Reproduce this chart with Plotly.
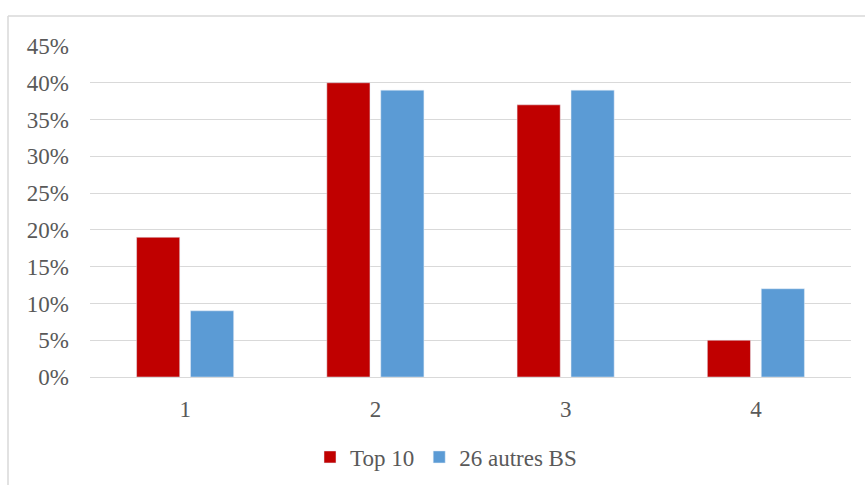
import plotly.graph_objects as go

categories = ["1", "2", "3", "4"]
top10 = [0.19, 0.40, 0.37, 0.05]
autres_bs = [0.09, 0.39, 0.39, 0.12]
y_ticks = [0, 0.05, 0.10, 0.15, 0.20, 0.25, 0.30, 0.35, 0.40, 0.45]
y_labels = ["0%", "5%", "10%", "15%", "20%", "25%", "30%", "35%", "40%", "45%"]

W, H = 865, 485
ML, MR, MT, MB = 90, 14, 46, 108
pw, ph = W - ML - MR, H - MT - MB

font = dict(family="Liberation Serif, Times New Roman, serif", size=23, color="#595959")

fig = go.Figure()
fig.add_trace(go.Bar(name="Top 10", x=categories, y=top10, marker_color="#C00000"))
fig.add_trace(go.Bar(name="26 autres BS", x=categories, y=autres_bs, marker_color="#5B9BD5"))

# chart frame (top and left edges)
bx0 = -(ML - 8) / pw
by1 = 1 + (MT - 16) / ph
fig.add_shape(type="line", xref="paper", yref="paper", x0=bx0, x1=1 + MR / pw, y0=by1, y1=by1,
              line=dict(color="#D9D9D9", width=1.5))
fig.add_shape(type="line", xref="paper", yref="paper", x0=bx0, x1=bx0, y0=by1, y1=-MB / ph - 0.01,
              line=dict(color="#D9D9D9", width=1.5))

fig.update_layout(
    width=W, height=H,
    margin=dict(l=ML, r=MR, t=MT, b=MB, autoexpand=False),
    paper_bgcolor="white", plot_bgcolor="white",
    barmode="group", bargap=0.433, bargroupgap=0.2,
    font=font,
    showlegend=True,
    legend=dict(orientation="h", x=(446 - ML) / pw, xanchor="center",
                y=(H - 457) / H, yanchor="middle", yref="container",
                font=font, itemwidth=30, traceorder="normal"),
    xaxis=dict(showgrid=False, showline=False, ticks="", tickfont=font,
               ticklabelstandoff=16, automargin=False),
    yaxis=dict(range=[0, 0.45], tickvals=y_ticks, ticktext=y_labels, showgrid=True,
               gridcolor="#D9D9D9", gridwidth=1, zeroline=True, zerolinecolor="#D9D9D9",
               zerolinewidth=1, showline=False, ticks="", tickfont=font,
               ticklabelstandoff=20, automargin=False),
)

fig.write_html("out.html")
